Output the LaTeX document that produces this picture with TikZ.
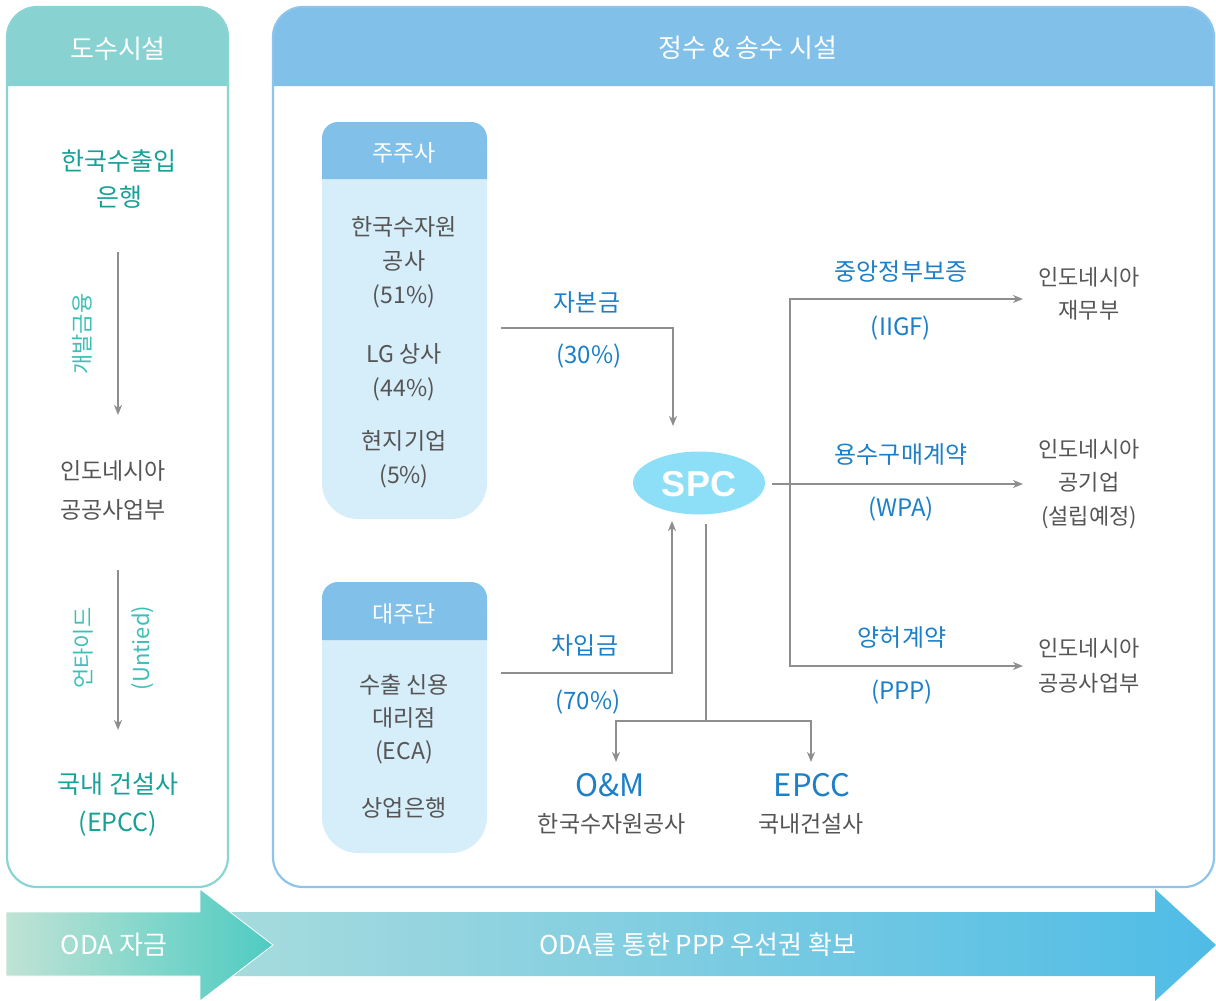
\documentclass[tikz,border=0pt]{standalone}
\usepackage{fontspec}
\setmainfont{Noto Sans CJK KR}
\newfontfamily\spcfont{Liberation Sans}
\usetikzlibrary{arrows.meta,shapes.geometric}

\definecolor{tealhead}{HTML}{88D3D2}
\definecolor{tealline}{HTML}{8AD4D3}
\definecolor{bluehead}{HTML}{80C0E9}
\definecolor{blueline}{HTML}{8CC4EC}
\definecolor{boxbody}{HTML}{D6EDFA}
\definecolor{spcfill}{HTML}{8DDFF7}
\definecolor{graytxt}{HTML}{555555}
\definecolor{bluetxt}{HTML}{1C7FC7}
\definecolor{tealtxt}{HTML}{17A097}
\definecolor{tealtxtl}{HTML}{3BC0B6}
\definecolor{arrowgray}{HTML}{8E8E8E}
\definecolor{aoneL}{HTML}{BFE3D5}
\definecolor{aoneR}{HTML}{4FCBC2}
\definecolor{atwoL}{HTML}{A9DCDD}
\definecolor{atwoR}{HTML}{4FBCE6}

\begin{document}
\begin{tikzpicture}[x=1pt,y=-1pt,
  conn/.style={draw=arrowgray, line width=1.8pt},
  tip/.style={-{Stealth[length=10pt,width=8pt,inset=3pt]}},
  hdr/.style={text=white, font=\fontsize{26}{30}\selectfont},
  boxhdr/.style={text=white, font=\fontsize{23}{26}\selectfont},
  gtxt/.style={text=graytxt, align=center, font=\fontsize{23}{34}\selectfont},
  rtxt/.style={text=graytxt, align=center, font=\fontsize{22}{33}\selectfont},
  btxt/.style={text=bluetxt, align=center, font=\fontsize{24}{26}\selectfont},
  bigb/.style={text=bluetxt, font=\fontsize{31}{34}\selectfont},
  ttxt/.style={text=tealtxt, align=center, font=\fontsize{25}{36}\selectfont},
  vtxt/.style={text=tealtxtl, rotate=90, font=\fontsize{22}{24}\selectfont},
  wtxt/.style={text=white, font=\fontsize{26}{28}\selectfont},
  inner sep=0pt]

\useasboundingbox (0,0) rectangle (1216,1001);

% ---------- left panel ----------
\fill[tealhead] (7,86) [rounded corners=30] -- (7,7) -- (228,7) [sharp corners] -- (228,86) -- cycle;
\draw[tealline, line width=2.2pt, rounded corners=30] (7,7) rectangle (228,887);
\node[hdr] (lhead) at (118,49) {도수시설};

\node[ttxt] (exim) at (119,179) {한국수출입\\은행};
\node[gtxt, font=\fontsize{23}{39}\selectfont] (pw1) at (113,490) {인도네시아\\공공사업부};
\node[ttxt, font=\fontsize{25}{38}\selectfont] (con) at (118,805) {국내 건설사\\(EPCC)};

\node[vtxt] (dev) at (82,334) {개발금융};
\node[vtxt] (unt) at (83,648) {언타이드};
\node[vtxt] (untE) at (143,648) {(Untied)};

\coordinate (l1s) at (118,252);
\coordinate (l1e) at (118,415);
\coordinate (l2s) at (118,570);
\coordinate (l2e) at (118,730);
\draw[conn,tip] (l1s) -- (l1e);
\draw[conn,tip] (l2s) -- (l2e);

% ---------- right panel ----------
\fill[bluehead] (273,86) [rounded corners=30] -- (273,7) -- (1214,7) [sharp corners] -- (1214,86) -- cycle;
\draw[blueline, line width=2.2pt, rounded corners=30] (273,7) rectangle (1214,887);
\node[hdr] (rhead) at (748,48) {정수 \& 송수 시설};

% shareholders box
\fill[boxbody] (322,150) [rounded corners=36] -- (322,519) -- (487,519) [sharp corners] -- (487,150) -- cycle;
\fill[bluehead] (322,179) [rounded corners=16] -- (322,122) -- (487,122) [sharp corners] -- (487,179) -- cycle;
\node[boxhdr] (sh) at (404,153) {주주사};
\node[gtxt] (sh1) at (404,262) {한국수자원\\공사\\(51\%)};
\node[gtxt] (sh2) at (404,372) {LG 상사\\(44\%)};
\node[gtxt] (sh3) at (404,459) {현지기업\\(5\%)};

% lenders box
\fill[boxbody] (322,610) [rounded corners=36] -- (322,853) -- (487,853) [sharp corners] -- (487,610) -- cycle;
\fill[bluehead] (322,640) [rounded corners=16] -- (322,582) -- (487,582) [sharp corners] -- (487,640) -- cycle;
\node[boxhdr] (ln) at (404,614) {대주단};
\node[gtxt, font=\fontsize{23}{33}\selectfont] (ln1) at (404,719) {수출 신용\\대리점\\(ECA)};
\node[gtxt] (ln2) at (404,808) {상업은행};

% SPC
\node[ellipse, fill=spcfill, minimum width=132pt, minimum height=63pt] (spc) at (699,483) {};
\node[text=white, font=\spcfont\bfseries\fontsize{36}{40}\selectfont] (spct) at (699,484) {SPC};

% equity / loan
\coordinate (eqs) at (501,328);
\coordinate (eqe) at (673,426);
\draw[conn,tip] (eqs) -| (eqe);
\node[btxt] (eqa) at (587,303) {자본금};
\node[btxt] (eqb) at (589,356) {(30\%)};

\coordinate (lns) at (501,673);
\coordinate (lne) at (672,521);
\draw[conn,tip] (lns) -| (lne);
\node[btxt] (lna) at (585,646) {차입금};
\node[btxt] (lnb) at (588,702) {(70\%)};

% down to O&M / EPCC
\coordinate (dn0) at (706,524);
\coordinate (dnj) at (706,721);
\coordinate (om) at (616,762);
\coordinate (ep) at (811,762);
\draw[conn] (dn0) -- (dnj);
\draw[conn,tip] (dnj) -| (om);
\draw[conn,tip] (dnj) -| (ep);
\node[bigb] (omt) at (610,785) {O\&M};
\node[rtxt, font=\fontsize{23}{33}\selectfont] (omc) at (612,824) {한국수자원공사};
\node[bigb] (ept) at (812,785) {EPCC};
\node[rtxt, font=\fontsize{23}{33}\selectfont] (epc) at (811,824) {국내건설사};

% right branches
\coordinate (rs) at (772,484);
\coordinate (re) at (1023,484);
\coordinate (vj) at (790,484);
\coordinate (t1) at (1023,299);
\coordinate (t3) at (1023,666);
\draw[conn,tip] (rs) -- (re);
\draw[conn,tip] (vj) |- (t1);
\draw[conn,tip] (vj) |- (t3);

\node[btxt] (g1a) at (901,272) {중앙정부보증};
\node[btxt] (g1b) at (901,328) {(IIGF)};
\node[btxt] (g2a) at (901,455) {용수구매계약};
\node[btxt] (g2b) at (901,509) {(WPA)};
\node[btxt] (g3a) at (902,638) {양허계약};
\node[btxt] (g3b) at (902,692) {(PPP)};

\node[rtxt] (r1) at (1089,294) {인도네시아\\재무부};
\node[rtxt, font=\fontsize{22}{33.5}\selectfont] (r2) at (1089,484) {인도네시아\\공기업\\(설립예정)};
\node[rtxt, font=\fontsize{22}{35}\selectfont] (r3) at (1089,666) {인도네시아\\공공사업부};

% ---------- bottom arrows ----------
\shade[left color=atwoL, right color=atwoR]
  (200,912) -- (1155,912) -- (1155,889) -- (1216,945) -- (1155,1001) -- (1155,976) -- (200,976) -- cycle;
\shade[left color=aoneL, right color=aoneR, draw=white, line width=0.8pt]
  (6,912) -- (200,912) -- (200,889) -- (273,945) -- (200,1001) -- (200,976) -- (6,976) -- cycle;
\node[wtxt] (oda1) at (114,945) {ODA 자금};
\node[wtxt] (oda2) at (698,945) {ODA를 통한 PPP 우선권 확보};

\end{tikzpicture}
\end{document}
